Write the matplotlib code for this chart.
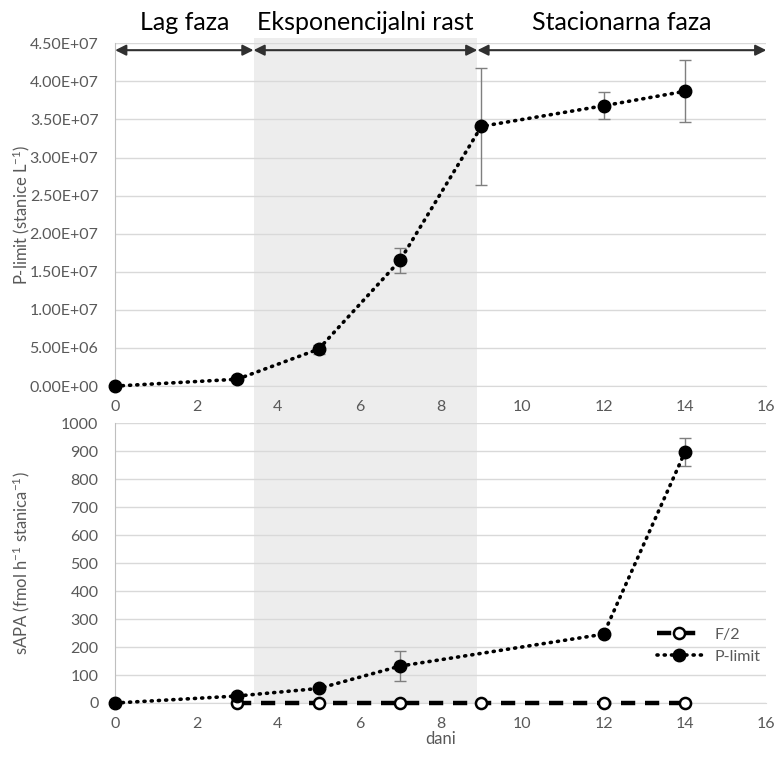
import matplotlib.pyplot as plt
import matplotlib.transforms as mtransforms
from matplotlib.patches import Rectangle
from matplotlib.ticker import FuncFormatter, MultipleLocator
import numpy as np

plt.rcParams.update({
    'font.family': ['Lato', 'DejaVu Sans'],
    'font.size': 11.5,
    'xtick.labelsize': 11.5,
    'ytick.labelsize': 11.5,
    'mathtext.default': 'regular',
})

# --- data ---
days_cells = [0, 3, 5, 7, 9, 12, 14]
cells_plimit = [0, 0.9e6, 4.85e6, 16.5e6, 34.1e6, 36.8e6, 38.7e6]
cells_err = [0, 0.2e6, 0.6e6, 1.6e6, 7.65e6, 1.8e6, 4.05e6]

days_sapa_plimit = [0, 3, 5, 7, 12, 14]
sapa_plimit = [0, 25, 52, 132, 246, 897]
sapa_plimit_err = [0, 0, 0, 55, 0, 50]

days_sapa_f2 = [3, 5, 7, 9, 12, 14]
sapa_f2 = [0, 0, 0, 0, 0, 0]

phase_names = ['Lag faza', 'Eksponencijalni rast', 'Stacionarna faza']
phase_bounds = [0, 3.4, 8.9, 16]

GRID = '#d9d9d9'
TXT = '#595959'
ERR = '#7f7f7f'

fig = plt.figure(figsize=(7.78, 7.60), dpi=100)
ax1 = fig.add_axes([0.148, 0.492, 0.837, 0.451])
ax2 = fig.add_axes([0.148, 0.075, 0.837, 0.368])


def style_axes(ax):
    ax.set_facecolor('none')
    for s in ['top', 'right']:
        ax.spines[s].set_visible(False)
    ax.spines['left'].set_color('#bfbfbf')
    ax.spines['bottom'].set_color(GRID)
    ax.tick_params(length=0, colors=TXT)
    ax.tick_params(axis='y', pad=12)
    ax.tick_params(axis='x', pad=10)
    ax.grid(axis='y', color=GRID, lw=1)
    ax.set_axisbelow(True)
    ax.set_xlim(0, 16)
    ax.xaxis.set_major_locator(MultipleLocator(2))


dotted = dict(color='black', lw=2.6, linestyle=(0, (0.3, 1.7)),
              dash_capstyle='round', marker='o', markersize=9,
              markerfacecolor='black', markeredgecolor='black')

# top panel: cell counts
style_axes(ax1)
ax1.set_ylim(0, 4.5e7)
ax1.yaxis.set_major_locator(MultipleLocator(5e6))
ax1.yaxis.set_major_formatter(FuncFormatter(lambda v, p: f'{v:.2E}'))
ax1.errorbar(days_cells, cells_plimit, yerr=cells_err, fmt='none',
             ecolor=ERR, elinewidth=1, capsize=4, capthick=1, zorder=2)
ax1.plot(days_cells, cells_plimit, clip_on=False, zorder=3, **dotted)
ax1.set_ylabel('P-limit (stanice L$^{-1}$)', color=TXT, fontsize=12)
ax1.yaxis.set_label_coords(-0.128, 0.5)

# phase arrows and labels
arrow_y = 4.41e7
for i, name in enumerate(phase_names):
    x0, x1 = phase_bounds[i], phase_bounds[i + 1]
    ax1.annotate('', xy=(x1, arrow_y), xytext=(x0, arrow_y),
                 arrowprops=dict(arrowstyle='<|-|>', color='#303030', lw=1.5,
                                 shrinkA=0, shrinkB=0, mutation_scale=16),
                 annotation_clip=False)
    ax1.text((x0 + x1) / 2, 4.77e7, name, ha='center', va='center',
             fontsize=18, color='black', clip_on=False)

# bottom panel: sAPA
style_axes(ax2)
ax2.set_ylim(0, 1000)
ax2.yaxis.set_major_locator(MultipleLocator(100))
ax2.plot(days_sapa_f2, sapa_f2, color='black', lw=3.2,
         linestyle=(0, (3.2, 2.2)), marker='o', markersize=8,
         markerfacecolor='white', markeredgecolor='black',
         markeredgewidth=1.8, clip_on=False, zorder=3, label='F/2')
ax2.errorbar(days_sapa_plimit, sapa_plimit, yerr=sapa_plimit_err, fmt='none',
             ecolor=ERR, elinewidth=1, capsize=4, capthick=1, zorder=2)
ax2.plot(days_sapa_plimit, sapa_plimit, clip_on=False, zorder=4,
         label='P-limit', **dotted)
ax2.set_ylabel('sAPA (fmol h$^{-1}$ stanica$^{-1}$)', color=TXT, fontsize=12)
ax2.yaxis.set_label_coords(-0.128, 0.5)
ax2.set_xlabel('dani', color=TXT, fontsize=12, labelpad=0)
leg = ax2.legend(loc='center left', bbox_to_anchor=(0.81, 0.205),
                 frameon=False, handlelength=2.8, labelspacing=0.5,
                 fontsize=11.5)
for t in leg.get_texts():
    t.set_color(TXT)

# shaded exponential phase spanning both panels
trans = mtransforms.blended_transform_factory(ax1.transData, fig.transFigure)
rect = Rectangle((phase_bounds[1], 0.075), phase_bounds[2] - phase_bounds[1],
                 0.875, transform=trans, facecolor='#ededed',
                 edgecolor='none', zorder=-1)
fig.add_artist(rect)

fig.savefig('out.png', dpi=100)
